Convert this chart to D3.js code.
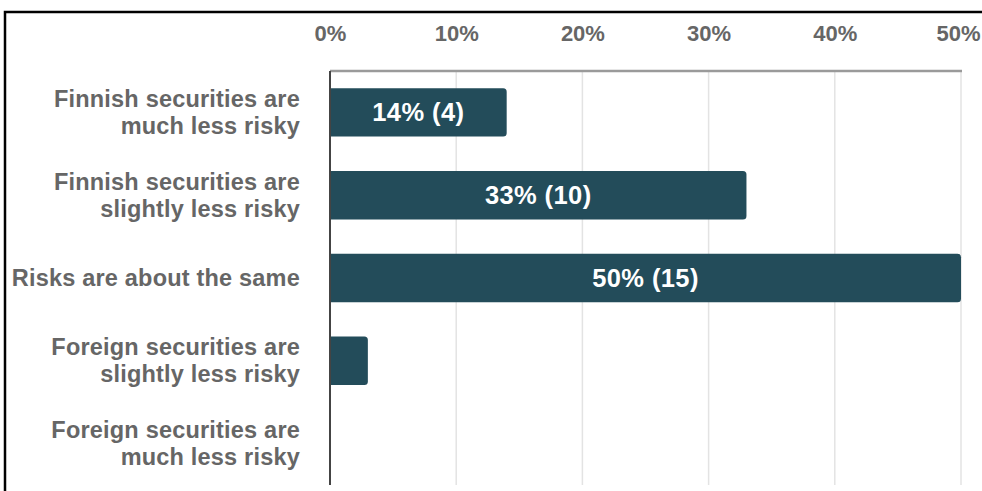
<!DOCTYPE html>
<html>
<head>
<meta charset="utf-8">
<script src="https://cdn.jsdelivr.net/npm/d3@7"></script>
<style>
  html, body { margin: 0; padding: 0; background: #fff; }
  svg { display: block; }
  text { font-family: "Liberation Sans", Arial, sans-serif; font-weight: bold; }
</style>
</head>
<body>
<svg id="chart" width="982" height="491"></svg>
<script>
// Survey answers: how risky are Finnish securities compared with foreign ones
const categories = [
  ["Finnish securities are", "much less risky"],
  ["Finnish securities are", "slightly less risky"],
  ["Risks are about the same"],
  ["Foreign securities are", "slightly less risky"],
  ["Foreign securities are", "much less risky"]
];
const percents = [14, 33, 50, 3, 0];
const counts = [4, 10, 15, 1, 0];
const tickValues = [0, 10, 20, 30, 40, 50];

const W = 982, H = 491;
const plot = { left: 330, right: 961, top: 71, bottom: 485 };
const barColor = "#234c5a";
const textGrey = "#666666";

const svg = d3.select("#chart");

const x = d3.scaleLinear().domain([0, 50]).range([plot.left, plot.right]);
const y = d3.scaleBand()
  .domain(d3.range(categories.length))
  .range([plot.top, plot.bottom])
  .paddingInner(0.415)
  .paddingOuter(0.2075);

// frame lines along the top and left of the figure
svg.append("path")
  .attr("d", `M5,${H} L5,12 L${W},12`)
  .attr("fill", "none")
  .attr("stroke", "#000")
  .attr("stroke-width", 2.5);

// vertical gridlines
svg.append("g")
  .selectAll("line")
  .data(tickValues.slice(1))
  .join("line")
  .attr("x1", d => x(d)).attr("x2", d => x(d))
  .attr("y1", plot.top).attr("y2", plot.bottom)
  .attr("stroke", "#e3e3e3")
  .attr("stroke-width", 1.5);

// top axis with percentage labels
const xAxis = d3.axisTop(x)
  .tickValues(tickValues)
  .tickFormat(d => d + "%")
  .tickSize(0)
  .tickPadding(0);
const gx = svg.append("g").attr("transform", `translate(0,${plot.top})`).call(xAxis);
gx.select(".domain").remove();
gx.selectAll("text")
  .attr("y", -30)
  .attr("fill", textGrey)
  .style("font-size", "22px");
// keep the last tick label inside the figure
gx.selectAll(".tick").filter(d => d === tickValues[tickValues.length - 1])
  .select("text")
  .attr("text-anchor", "end")
  .attr("x", W - 2 - x(tickValues[tickValues.length - 1]));
svg.append("line")
  .attr("x1", plot.left).attr("x2", plot.right + 1)
  .attr("y1", plot.top).attr("y2", plot.top)
  .attr("stroke", "#9a9a9a")
  .attr("stroke-width", 2.5);

// bars with rounded right ends
function barPath(x0, x1, y0, h, r) {
  const w = x1 - x0;
  if (w <= 0) return "";
  r = Math.min(r, w, h / 2);
  return `M${x0},${y0} H${x1 - r} Q${x1},${y0} ${x1},${y0 + r} V${y0 + h - r} Q${x1},${y0 + h} ${x1 - r},${y0 + h} H${x0} Z`;
}
svg.append("g")
  .selectAll("path")
  .data(percents)
  .join("path")
  .attr("d", (d, i) => barPath(x(0), x(d), y(i), y.bandwidth(), 3.5))
  .attr("fill", barColor);

// value labels inside bars wide enough to hold them
svg.append("g")
  .selectAll("text")
  .data(percents.map((p, i) => ({ p, c: counts[i], i })).filter(d => x(d.p) - x(0) > 120))
  .join("text")
  .attr("x", d => (x(0) + x(d.p)) / 2)
  .attr("y", d => y(d.i) + y.bandwidth() / 2 + 9)
  .attr("text-anchor", "middle")
  .attr("fill", "#fff")
  .style("font-size", "25.5px")
  .style("letter-spacing", "0.4px")
  .text(d => `${d.p}% (${d.c})`);

// left baseline
svg.append("line")
  .attr("x1", plot.left).attr("x2", plot.left)
  .attr("y1", plot.top).attr("y2", plot.bottom)
  .attr("stroke", "#444")
  .attr("stroke-width", 2);

// category labels, right aligned
const lineH = 27;
const labels = svg.append("g")
  .selectAll("text")
  .data(categories)
  .join("text")
  .attr("text-anchor", "end")
  .attr("fill", textGrey)
  .style("font-size", "23.5px")
  .style("letter-spacing", "0.2px");
labels.each(function (lines, i) {
  const cy = y(i) + y.bandwidth() / 2;
  const first = cy + 8 - (lines.length - 1) * lineH / 2;
  d3.select(this).selectAll("tspan")
    .data(lines)
    .join("tspan")
    .attr("x", 300)
    .attr("y", (d, k) => first + k * lineH)
    .text(d => d);
});
</script>
</body>
</html>
